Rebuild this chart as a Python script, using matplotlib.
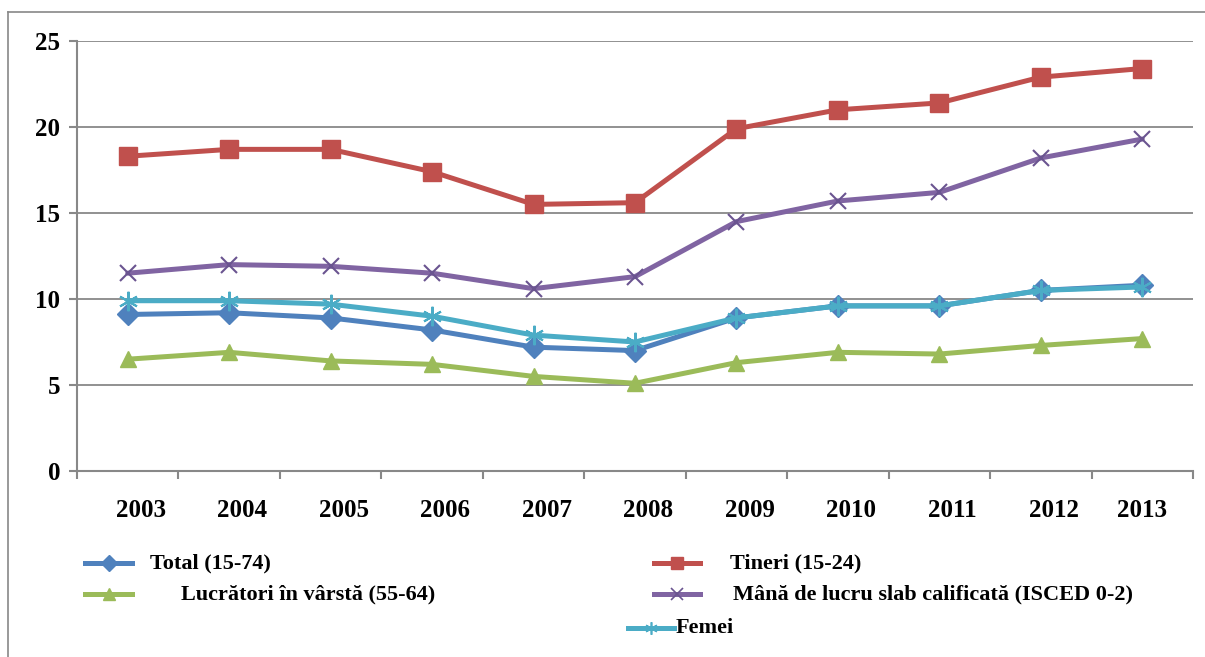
import matplotlib
matplotlib.use("Agg")
import matplotlib.pyplot as plt
from matplotlib.lines import Line2D
import matplotlib.transforms as mtransforms
import numpy as np

years = ["2003", "2004", "2005", "2006", "2007", "2008", "2009", "2010", "2011", "2012", "2013"]
total = [9.1, 9.2, 8.9, 8.2, 7.2, 7.0, 8.9, 9.6, 9.6, 10.5, 10.8]
tineri = [18.3, 18.7, 18.7, 17.4, 15.5, 15.6, 19.9, 21.0, 21.4, 22.9, 23.4]
lucratori = [6.5, 6.9, 6.4, 6.2, 5.5, 5.1, 6.3, 6.9, 6.8, 7.3, 7.7]
mana = [11.5, 12.0, 11.9, 11.5, 10.6, 11.3, 14.5, 15.7, 16.2, 18.2, 19.3]
femei = [9.9, 9.9, 9.7, 9.0, 7.9, 7.5, 8.9, 9.6, 9.6, 10.5, 10.7]
yticks = [0, 5, 10, 15, 20, 25]

labels = ["Total (15-74)", "Tineri (15-24)", "Lucrători în vârstă (55-64)",
          "Mână de lucru slab calificată (ISCED 0-2)", "Femei"]
colors = ["#4F81BD", "#C0504D", "#9BBB59", "#8064A2", "#4BACC6"]
markers = ["D", "s", "^", "x", (6, 2, 0)]
msizes = [11, 13, 12, 12, 14]
medge = ["#4F81BD", "#C0504D", "#9BBB59", "#6A5490", "#4BACC6"]

W, H = 1205, 657
fig = plt.figure(figsize=(W / 100, H / 100), dpi=100)
ax = fig.add_axes([77 / W, 1 - 471 / H, (1193 - 77) / W, (471 - 41) / H])
ax.set_xlim(-0.5, len(years) - 0.5)
ax.set_ylim(0, 25)

serif = ["Liberation Serif", "DejaVu Serif"]

x = np.arange(len(years))
series = [total, tineri, lucratori, mana, femei]
for i, s in enumerate(series):
    ax.plot(x, s, color=colors[i], lw=3.6, solid_joinstyle="round",
            solid_capstyle="round", zorder=3 + i)
    mk = markers[i]
    if mk == "x" or isinstance(mk, tuple):
        ax.plot(x, s, linestyle="none", marker=mk, markersize=msizes[i],
                markeredgecolor=medge[i], markeredgewidth=1.5, zorder=3.5 + i)
    else:
        ax.plot(x, s, linestyle="none", marker=mk, markersize=msizes[i],
                markerfacecolor=colors[i], markeredgecolor=colors[i], zorder=3.5 + i)

ax.set_yticks(yticks)
ax.set_yticklabels([str(v) for v in yticks], fontfamily=serif, fontweight="bold", fontsize=18)
ax.set_xticks(np.arange(len(years) + 1) - 0.5)
ax.set_xticklabels([])
ax.set_xticks(x, minor=True)
ax.set_xticklabels(years, minor=True, fontfamily=serif, fontweight="bold", fontsize=18)
ax.tick_params(axis="x", which="major", length=6, width=1.5, color="#888888", direction="out")
ax.tick_params(axis="x", which="minor", length=0, pad=20)
ax.tick_params(axis="y", length=6, width=1.5, color="#888888", pad=6)
# category labels sit slightly right of their centers, except the last one
for j, lab in enumerate(ax.get_xticklabels(minor=True)):
    if j < len(years) - 1:
        lab.set_transform(lab.get_transform() +
                          mtransforms.ScaledTranslation(13 / 100, 0, fig.dpi_scale_trans))
ax.grid(axis="y", color="#888888", lw=1.3)
ax.set_axisbelow(True)
for sp in ["top", "right"]:
    ax.spines[sp].set_visible(False)
for sp in ["left", "bottom"]:
    ax.spines[sp].set_color("#888888")
    ax.spines[sp].set_linewidth(1.5)

# outer chart border
fig.add_artist(Line2D([8 / W, 1.0], [1 - 12 / H, 1 - 12 / H], color="#888888", lw=1.2))
fig.add_artist(Line2D([8 / W, 8 / W], [0.0, 1 - 12 / H], color="#888888", lw=1.2))

# legend (manual placement)
leg = [
    (0, 85, 132, 563, 150),
    (1, 654, 700, 563, 730),
    (2, 85, 132, 594, 181),
    (3, 654, 700, 594, 733),
    (4, 628, 674, 628, 676),
]
for i, x0, x1, yy, tx in leg:
    fy = 1 - yy / H
    fig.add_artist(Line2D([x0 / W, x1 / W], [fy, fy], color=colors[i], lw=3.6))
    mk = markers[i]
    if mk == "x" or isinstance(mk, tuple):
        fig.add_artist(Line2D([(x0 + x1) / 2 / W], [fy], linestyle="none", marker=mk,
                              markersize=9, markeredgecolor=medge[i], markeredgewidth=1.2))
    else:
        fig.add_artist(Line2D([(x0 + x1) / 2 / W], [fy], linestyle="none", marker=mk,
                              markersize=8, markerfacecolor=colors[i],
                              markeredgecolor=colors[i]))
    fig.text(tx / W, fy, labels[i], fontfamily=serif, fontweight="bold", fontsize=16,
             va="center", ha="left")

fig.savefig("out.png", dpi=100)
